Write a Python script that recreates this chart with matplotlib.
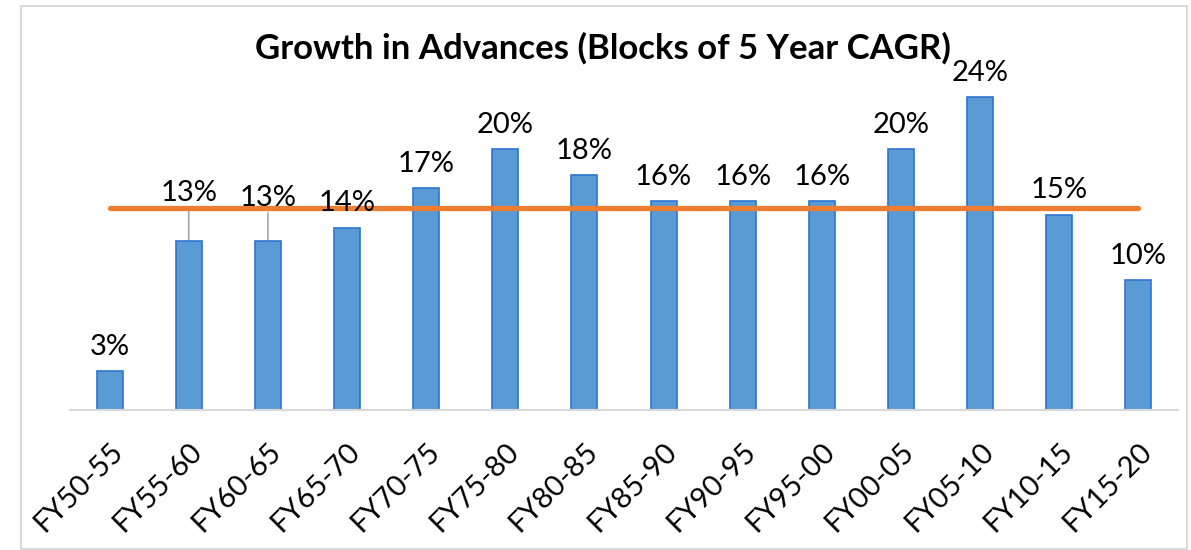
import numpy as np
import matplotlib.pyplot as plt

# data
periods = ['FY50-55', 'FY55-60', 'FY60-65', 'FY65-70', 'FY70-75', 'FY75-80', 'FY80-85',
           'FY85-90', 'FY90-95', 'FY95-00', 'FY00-05', 'FY05-10', 'FY10-15', 'FY15-20']
cagr = [3, 13, 13, 14, 17, 20, 18, 16, 16, 16, 20, 24, 15, 10]
avg_line = 15.5
# extra lift (points) for labels Excel pushed above the average line
label_lift = [0, 17, 13, 0, 0, 0, 0, 0, 0, 0, 0, 0, 0, 0]

plt.rcParams['font.family'] = ['Lato', 'DejaVu Sans']

fig = plt.figure(figsize=(11.91, 5.5), dpi=100)
ax = fig.add_axes([70 / 1191, 140 / 550, 1108 / 1191, 391 / 550])

x = np.arange(len(periods))
ax.bar(x, cagr, width=0.33, color='#5B9BD5', edgecolor='#2E75D0', linewidth=1.2, zorder=2)
ax.plot([x[0], x[-1]], [avg_line, avg_line], color='#ED7D31', linewidth=3.8,
        solid_capstyle='round', zorder=3)

for xi, v, lift in zip(x, cagr, label_lift):
    ax.annotate(f'{v}%', (xi, v), xytext=(0, 8 + lift), textcoords='offset points',
                ha='center', va='bottom', fontsize=21, zorder=4)
    if lift:
        ax.annotate('', (xi, v), xytext=(0, 8 + lift - 1), textcoords='offset points',
                    arrowprops=dict(arrowstyle='-', color='#A6A6A6', lw=1.2,
                                    shrinkA=0, shrinkB=0), zorder=1)

ax.set_xlim(-0.5, len(periods) - 0.5)
ax.set_ylim(0, 30)
ax.set_yticks([])
ax.set_xticks(x)
ax.set_xticklabels(periods, rotation=45, ha='right', rotation_mode='anchor', fontsize=21)
ax.tick_params(axis='x', length=0, pad=20)
for side in ['top', 'right', 'left']:
    ax.spines[side].set_visible(False)
ax.spines['bottom'].set_color('#D9D9D9')
ax.spines['bottom'].set_linewidth(1.5)

fig.text(603 / 1191, 1 - 48 / 550, 'Growth in Advances (Blocks of 5 Year CAGR)',
         ha='center', va='center', fontsize=25, fontweight='bold')

# chart border
fig.patches.append(plt.Rectangle((21 / 1191, 1 / 550), 1166 / 1191, 543 / 550,
                                 transform=fig.transFigure, fill=False,
                                 edgecolor='#D9D9D9', linewidth=1.5))

fig.savefig('out.png', dpi=100)
